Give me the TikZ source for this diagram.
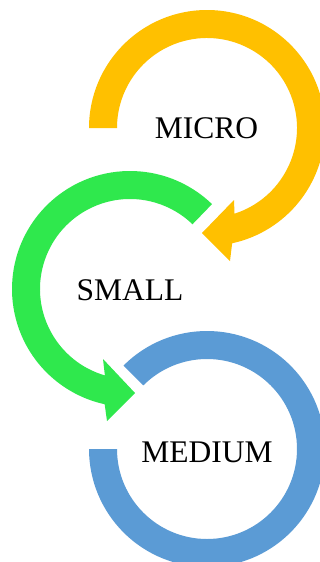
\documentclass[tikz,border=0pt]{standalone}
\usepackage{fontspec}
\setmainfont{Liberation Serif}
\usetikzlibrary{calc}
\definecolor{cgold}{RGB}{255,192,0}
\definecolor{cgreen}{RGB}{47,232,77}
\definecolor{cblue}{RGB}{91,155,213}
\tikzset{
  lbl/.style={inner sep=0pt, anchor=base, font=\fontsize{31.5}{36}\selectfont, text=black},
  ring/.style={draw=none}
}
\begin{document}
\begin{tikzpicture}[x=1pt,y=1pt]
\useasboundingbox (0,0) rectangle (320,-562);
\clip (0,0) rectangle (320,-562);
\fill[white] (0,0) rectangle (320,-562);
\coordinate (Y) at (207,-128);
\coordinate (G) at (130,-289);
\coordinate (B) at (207,-449);
% yellow arrow
\fill[cgold] ($(Y)+(180:118)$) arc[start angle=180, end angle=-77.7, radius=118]
  -- (230,-261) -- (202,-233) -- (234,-200)
  -- ($(Y)+(-72.2:90)$) arc[start angle=-72.2, end angle=180, radius=90] -- cycle;
% green arrow
\fill[cgreen] ($(G)+(46:118)$) arc[start angle=46, end angle=257.6, radius=118]
  -- (107,-421) -- (135,-393) -- (103,-359)
  -- ($(G)+(253.8:90)$) arc[start angle=253.8, end angle=46, radius=90] -- cycle;
% blue ring
\fill[cblue] ($(B)+(135:118)$) arc[start angle=135, end angle=-180, radius=118]
  -- ($(B)+(-180:90)$) arc[start angle=-180, end angle=135, radius=90] -- cycle;
\node[lbl] (micro) at (206.5,-138) {MICRO};
\node[lbl] (small) at (130,-300) {SMALL};
\node[lbl] (medium) at (207,-462) {MEDIUM};
\end{tikzpicture}
\end{document}
